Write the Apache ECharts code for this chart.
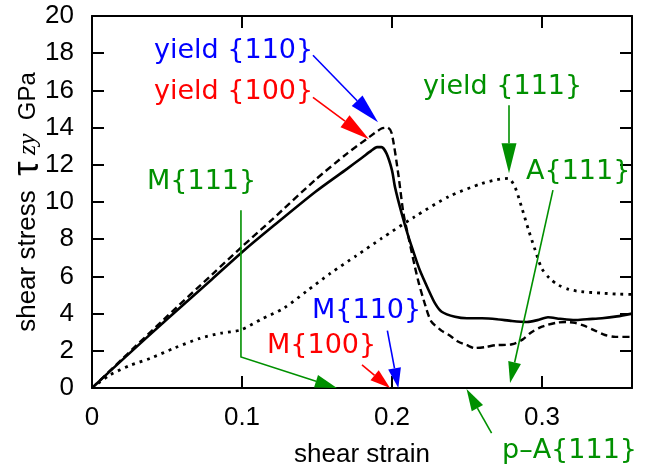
<!DOCTYPE html>
<html><head><meta charset="utf-8">
<script src="https://cdn.jsdelivr.net/npm/echarts/dist/echarts.min.js"></script>
<style>html,body{margin:0;padding:0;background:#fff}#c{width:645px;height:475px}</style>
</head><body><div id="c"></div>
<script>
// ---- data ----
const xTickLabels = ['0', '0.1', '0.2', '0.3'];
const yTickLabels = ['0','2','4','6','8','10','12','14','16','18','20'];

const solidX = [0, 0.02, 0.05, 0.08, 0.1, 0.12, 0.149, 0.17, 0.18, 0.186, 0.19, 0.193, 0.1964, 0.2, 0.202, 0.2064, 0.2109, 0.2148, 0.2187, 0.2242, 0.2287, 0.2331, 0.242, 0.25, 0.26, 0.27, 0.28, 0.29, 0.297, 0.304, 0.312, 0.322, 0.33, 0.34, 0.35, 0.36];
const solidY = [0, 1.5, 3.7, 5.85, 7.3, 8.65, 10.55, 11.78, 12.38, 12.75, 12.95, 12.95, 12.6, 11.7, 10.8, 9.4, 8.15, 7.2, 6.3, 5.3, 4.55, 4.1, 3.83, 3.75, 3.75, 3.7, 3.6, 3.55, 3.65, 3.8, 3.72, 3.65, 3.7, 3.75, 3.85, 4.0];

const dashX = [0, 0.02, 0.05, 0.08, 0.1, 0.12, 0.149, 0.17, 0.185, 0.193, 0.197, 0.1998, 0.2042, 0.2076, 0.211, 0.2153, 0.218, 0.2216, 0.226, 0.2327, 0.238, 0.244, 0.25, 0.255, 0.262, 0.269, 0.28, 0.287, 0.293, 0.3, 0.309, 0.316, 0.322, 0.328, 0.335, 0.342, 0.349, 0.36];
const dashY = [0, 1.55, 3.85, 6.1, 7.6, 9.05, 11.2, 12.6, 13.5, 13.95, 14.0, 13.7, 11.5, 9.4, 8.1, 6.5, 5.6, 4.6, 3.6, 3.1, 2.85, 2.5, 2.3, 2.15, 2.2, 2.3, 2.35, 2.6, 3.0, 3.3, 3.5, 3.55, 3.5, 3.35, 3.1, 2.85, 2.75, 2.75];

const dotX = [0, 0.012, 0.025, 0.039, 0.055, 0.072, 0.086, 0.099, 0.113, 0.128, 0.143, 0.159, 0.176, 0.193, 0.215, 0.238, 0.26, 0.27, 0.2776, 0.282, 0.2865, 0.291, 0.2955, 0.2998, 0.305, 0.311, 0.318, 0.326, 0.34, 0.35, 0.36];
const dotY = [0, 0.7, 1.2, 1.6, 2.15, 2.67, 2.95, 3.12, 3.7, 4.3, 5.2, 6.17, 7.1, 8.04, 9.2, 10.3, 11.0, 11.2, 11.27, 10.8, 9.7, 8.5, 7.4, 6.43, 5.9, 5.53, 5.3, 5.18, 5.1, 5.05, 5.03];

// annotation arrows (data coordinates): path points, last one is the tip
const arrowBlueYield  = [[0.1473, 17.89], [0.1907, 14.29]];
const arrowRedYield   = [[0.1473, 15.63], [0.1847, 13.38]];
const arrowGreenYield = [[0.278, 15.2], [0.278, 11.55]];
const arrowGreenA     = [[0.3073, 10.64], [0.2787, 0.27]];
const arrowGreenM     = [[0.0993, 9.56], [0.0993, 1.67], [0.1633, 0.0]];
const arrowRedM       = [[0.18, 1.24], [0.1987, 0.0]];
const arrowBlueM      = [[0.1969, 3.08], [0.2042, 0.0]];
const arrowGreenPA    = [[0.2664, -2.43], [0.2497, -0.05]];

const BLUE = '#0000ff', RED = '#ff0000', GREEN = '#009000';

function zip(xs, ys) { return xs.map((x, i) => [x, ys[i]]); }

const chart = echarts.init(document.getElementById('c'), null, {renderer: 'canvas'});

const axisLineStyle = {color: '#000', width: 2};
function xFmt(v) {
  const i = Math.round(v * 10);
  return (Math.abs(v * 10 - i) < 1e-6 && i < xTickLabels.length) ? xTickLabels[i] : '';
}
function yFmt(v) {
  const i = Math.round(v / 2);
  return (Math.abs(v / 2 - i) < 1e-6 && i < yTickLabels.length) ? yTickLabels[i] : '';
}

chart.setOption({
  animation: false,
  backgroundColor: '#fff',
  grid: {left: 92, right: 13, top: 16, bottom: 87, containLabel: false, outerBoundsMode: 'none'},
  xAxis: [{
    type: 'value', min: 0, max: 0.36, interval: 0.1, position: 'bottom',
    axisLine: {onZero: false, lineStyle: axisLineStyle},
    axisTick: {inside: true, length: 12, lineStyle: axisLineStyle},
    axisLabel: {fontSize: 26, color: '#000', fontFamily: 'Liberation Sans', margin: 17, showMaxLabel: false, formatter: xFmt},
    splitLine: {show: false},
    name: 'shear strain', nameLocation: 'middle', nameGap: 54, nameMoveOverlap: false,
    nameTextStyle: {fontSize: 26, color: '#000', fontFamily: 'Liberation Sans'}
  }, {
    type: 'value', min: 0, max: 0.36, interval: 0.1, position: 'top',
    axisLine: {onZero: false, lineStyle: axisLineStyle},
    axisTick: {inside: true, length: 12, lineStyle: axisLineStyle},
    axisLabel: {show: false}, splitLine: {show: false}
  }],
  yAxis: [{
    type: 'value', min: 0, max: 20, interval: 2, position: 'left',
    axisLine: {show: true, onZero: false, lineStyle: axisLineStyle},
    axisTick: {show: true, inside: true, length: 12, lineStyle: axisLineStyle},
    axisLabel: {fontSize: 26, color: '#000', fontFamily: 'Liberation Sans', margin: 18, formatter: yFmt},
    splitLine: {show: false},
    name: '{a|shear stress  }{t|τ}{z| zy }{g| GPa}',
    nameLocation: 'middle', nameRotate: 90, nameGap: 46, nameMoveOverlap: false,
    nameTextStyle: {
      color: '#000',
      rich: {
        a: {fontSize: 26, fontFamily: 'Liberation Sans', color: '#000'},
        t: {fontSize: 36, fontFamily: 'Liberation Sans', color: '#000'},
        z: {fontSize: 26, fontFamily: 'Liberation Serif', fontStyle: 'italic', color: '#000'},
        g: {fontSize: 24, fontFamily: 'Liberation Sans', color: '#000'}
      }
    }
  }, {
    type: 'value', min: 0, max: 20, interval: 2, position: 'right',
    axisLine: {show: true, onZero: false, lineStyle: axisLineStyle},
    axisTick: {show: true, inside: true, length: 12, lineStyle: axisLineStyle},
    axisLabel: {show: false}, splitLine: {show: false}
  }],
  series: [{
    type: 'line', data: zip(solidX, solidY), symbol: 'none', smooth: 0.25,
    lineStyle: {color: '#000', width: 2.6}
  }, {
    type: 'line', data: zip(dashX, dashY), symbol: 'none', smooth: 0.25,
    lineStyle: {color: '#000', width: 2.4, type: [7, 4]}
  }, {
    type: 'line', data: zip(dotX, dotY), symbol: 'none', smooth: 0.25,
    lineStyle: {color: '#000', width: 2.8, type: [2.8, 5], cap: 'butt'}
  }]
});

function px(p) { return chart.convertToPixel({xAxisIndex: 0, yAxisIndex: 0}, p); }

function arrow(path, color, headLen, halfW) {
  const pts = path.map(px);
  const tip = pts[pts.length - 1];
  const prev = pts[pts.length - 2];
  const dx = tip[0] - prev[0], dy = tip[1] - prev[1];
  const len = Math.sqrt(dx * dx + dy * dy);
  const ux = dx / len, uy = dy / len;
  const base = [tip[0] - ux * headLen, tip[1] - uy * headLen];
  const b1 = [base[0] - uy * halfW, base[1] + ux * halfW];
  const b2 = [base[0] + uy * halfW, base[1] - ux * halfW];
  const linePts = pts.slice(0, -1).concat([base]);
  return [
    {type: 'polyline', shape: {points: linePts}, style: {stroke: color, lineWidth: 1.6, fill: null}, z: 100},
    {type: 'polygon', shape: {points: [tip, b1, b2]}, style: {fill: color, stroke: null}, z: 100}
  ];
}

function label(text, x, y, color) {
  return {type: 'text', x: x, y: y, z: 100,
    style: {text: text, fill: color, font: '27px "DejaVu Sans"', align: 'left', verticalAlign: 'middle'}};
}

const g = [].concat(
  arrow(arrowBlueYield, BLUE, 30, 7.5),
  arrow(arrowRedYield, RED, 30, 7.5),
  arrow(arrowGreenYield, GREEN, 30, 7.5),
  arrow(arrowGreenA, GREEN, 21, 6.5),
  arrow(arrowGreenM, GREEN, 22, 6.5),
  arrow(arrowRedM, RED, 20, 6.5),
  arrow(arrowBlueM, BLUE, 20, 6.5),
  arrow(arrowGreenPA, GREEN, 22, 6.5),
  [
    label('yield {110}', 154, 51, BLUE),
    label('yield {100}', 154, 92, RED),
    label('M{111}', 147, 182, GREEN),
    label('yield {111}', 423, 87, GREEN),
    label('A{111}', 526, 172, GREEN),
    label('M{110}', 312, 311, BLUE),
    label('M{100}', 267, 346, RED),
    label('p–A{111}', 502, 451, GREEN)
  ]
);
chart.setOption({graphic: g});
</script></body></html>
